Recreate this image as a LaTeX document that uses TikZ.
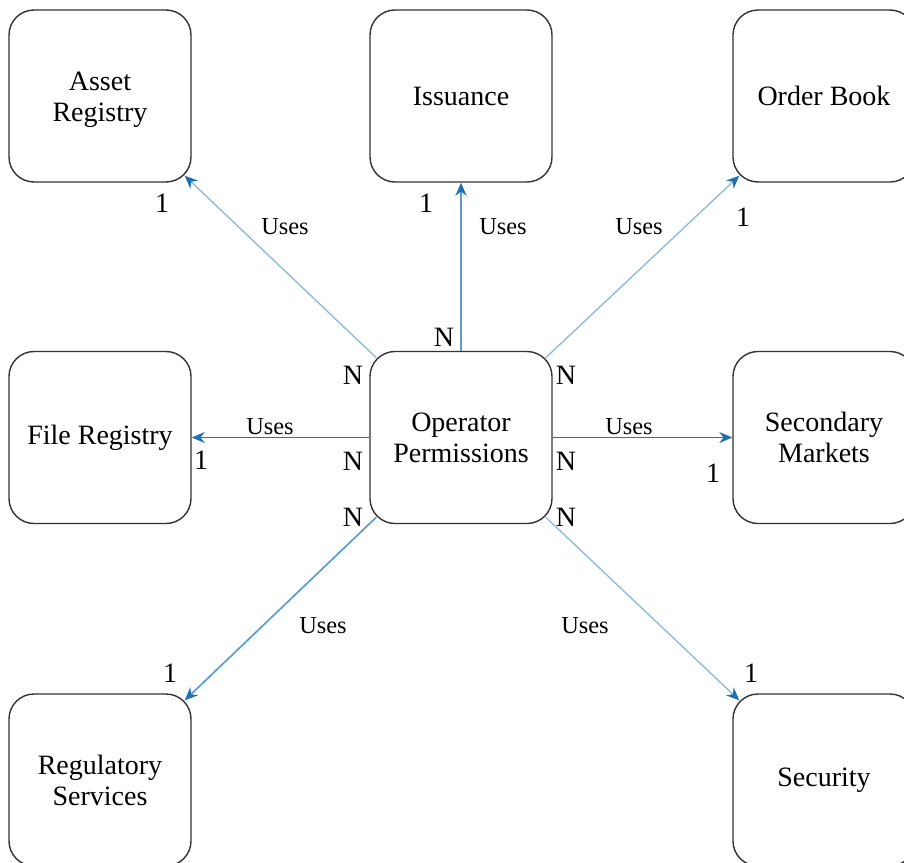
\documentclass[tikz,border=0pt]{standalone}
\usepackage{fontspec}
\setmainfont{Liberation Serif}
\usetikzlibrary{arrows.meta}
\definecolor{boxline}{HTML}{333333}
\definecolor{linklight}{HTML}{8DBCDD}
\definecolor{linkmid}{HTML}{5A9ED0}
\definecolor{linkdark}{HTML}{2F72A6}
\definecolor{tipblue}{HTML}{1F6FB4}
\begin{document}
\begin{tikzpicture}[x=0.5pt,y=-0.5pt,
  entity/.style={draw=boxline,line width=0.7pt,rounded corners=12.5pt,
    minimum width=91pt,minimum height=86pt,align=center,
    font=\fontsize{14}{15.5}\selectfont},
  link/.style={line width=0.7pt,-{Stealth[length=6.5pt,width=5.5pt,color=tipblue]}},
  usestext/.style={font=\fontsize{12.2}{14}\selectfont},
  card/.style={font=\fontsize{14}{16}\selectfont}]
\begin{scope}
\clip (0,0) rectangle (904,862);
% entities
\node[entity] (asset) at (100,96) {\raisebox{-2pt}[\height][\depth]{\begin{tabular}{@{}c@{}}Asset\\Registry\end{tabular}}};
\node[entity] (iss) at (461,96) {Issuance};
\node[entity] (order) at (824,96) {Order Book};
\node[entity] (file) at (100,437.5) {File Registry};
\node[entity] (op) at (461,437.5) {Operator\\Permissions};
\node[entity] (sec) at (824,437.5) {Secondary\\Markets};
\node[entity] (reg) at (100,780) {Regulatory\\Services};
\node[entity] (secu) at (824,780) {Security};
% relations
\draw[link,draw=linklight] ([xshift=3.5pt,yshift=-3.5pt]op.north west) -- ([xshift=-3.5pt,yshift=3.5pt]asset.south east);
\draw[link,draw=linkmid,line width=1.1pt] (op.north) -- (iss.south);
\draw[link,draw=linklight] ([xshift=-3.5pt,yshift=-3.5pt]op.north east) -- ([xshift=3.5pt,yshift=3.5pt]order.south west);
\draw[link,draw=linkdark,line width=0.9pt] (op.west) -- (file.east);
\draw[link,draw=linkdark,line width=0.9pt] (op.east) -- (sec.west);
\draw[link,draw=linkmid,line width=0.85pt] ([xshift=3.5pt,yshift=3.5pt]op.south west) -- ([xshift=-3.5pt,yshift=-3.5pt]reg.north east);
\draw[link,draw=linklight] ([xshift=-3.5pt,yshift=3.5pt]op.south east) -- ([xshift=3.5pt,yshift=-3.5pt]secu.north west);
% relation labels
\node[usestext] (u1) at (285,227) {Uses};
\node[usestext] (u2) at (503,227) {Uses};
\node[usestext] (u3) at (639,227) {Uses};
\node[usestext] (u4) at (270,427) {Uses};
\node[usestext] (u5) at (629,427) {Uses};
\node[usestext] (u6) at (323,626) {Uses};
\node[usestext] (u7) at (585,626) {Uses};
% cardinalities
\node[card] (c1) at (162,203) {1};
\node[card] (c2) at (426,203) {1};
\node[card] (c3) at (743,217) {1};
\node[card] (c4) at (201,460) {1};
\node[card] (c5) at (713,473) {1};
\node[card] (c6) at (170,673) {1};
\node[card] (c7) at (751,673) {1};
\node[card] (n1) at (444,337) {N};
\node[card] (n2) at (353,375) {N};
\node[card] (n3) at (566,375) {N};
\node[card] (n4) at (353,461) {N};
\node[card] (n5) at (566,461) {N};
\node[card] (n6) at (353,517) {N};
\node[card] (n7) at (566,517) {N};
\end{scope}
\pgfresetboundingbox
\path[use as bounding box] (0,0) rectangle (904,862);
\end{tikzpicture}
\end{document}
